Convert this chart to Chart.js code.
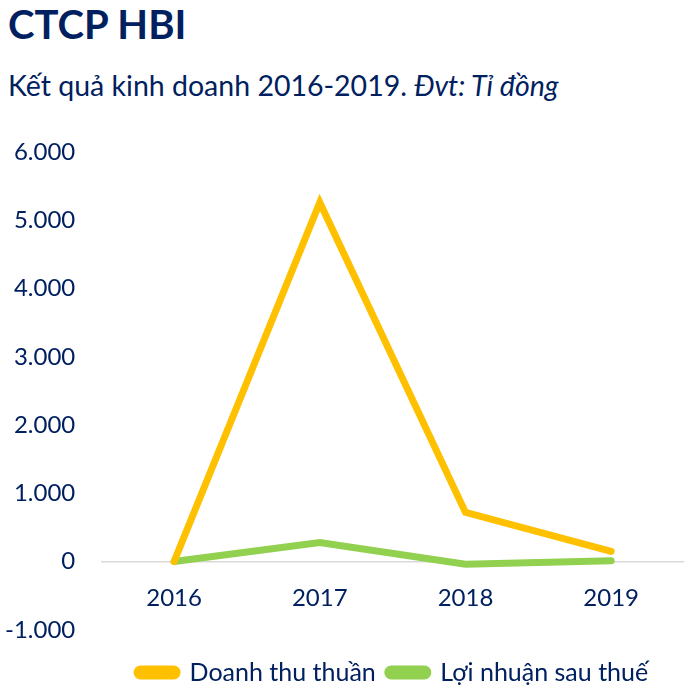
<!DOCTYPE html>
<html lang="vi">
<head>
  <meta charset="UTF-8" />
  <title>CTCP HBI</title>
  <style>
    * {
      margin: 0;
      padding: 0;
      box-sizing: border-box;
    }

    body {
      background-color: #ffffff;
      width: 684px;
      height: 699px;
      overflow: hidden;
      position: relative;
      font-family: 'Lato', 'Noto Sans', sans-serif;
      color: #002060;
    }

    .title {
      position: absolute;
      left: 8px;
      top: 0px;
      font-size: 40px;
      font-weight: 700;
      line-height: 48px;
    }

    .subtitle {
      position: absolute;
      left: 8px;
      top: 67px;
      font-size: 28.5px;
      line-height: 36px;
    }

    .subtitle em {
      font-style: italic;
    }

    .chart-box {
      position: absolute;
      left: 0;
      top: 110px;
      width: 684px;
      height: 589px;
    }
  </style>
</head>
<body>
  <div class="title">CTCP HBI</div>
  <div class="subtitle">Kết quả kinh doanh 2016-2019. <em>Đvt: Tỉ đồng</em></div>

  <div class="chart-box">
    <canvas id="resultChart"></canvas>
  </div>

  <script src="https://cdn.jsdelivr.net/npm/chart.js"></script>
  <script>
    const years = ["2016", "2017", "2018", "2019"];
    const revenue = [0, 5260, 720, 150];
    const profit = [0, 280, -40, 10];
    const yTicks = [-1000, 0, 1000, 2000, 3000, 4000, 5000, 6000];

    const navy = "#002060";
    const font = { family: "'Lato', 'Noto Sans', sans-serif", size: 24 };

    // 1000 -> "1.000"
    function formatNumber(v) {
      const s = Math.abs(v).toString().replace(/\B(?=(\d{3})+(?!\d))/g, ".");
      return (v < 0 ? "-" : "") + s;
    }

    const ctx = document.getElementById("resultChart").getContext("2d");
    new Chart(ctx, {
      type: "line",
      data: {
        labels: years,
        datasets: [
          {
            label: "Doanh thu thuần",
            data: revenue,
            borderColor: "#FFC000",
            backgroundColor: "#FFC000",
            borderWidth: 7,
            borderCapStyle: "round",
            pointRadius: 0,
            pointHoverRadius: 0,
            tension: 0
          },
          {
            label: "Lợi nhuận sau thuế",
            data: profit,
            borderColor: "#92D050",
            backgroundColor: "#92D050",
            borderWidth: 7,
            borderCapStyle: "round",
            pointRadius: 0,
            pointHoverRadius: 0,
            tension: 0
          }
        ]
      },
      options: {
        responsive: true,
        maintainAspectRatio: false,
        animation: false,
        layout: {
          padding: { top: 42, left: -21, right: 0, bottom: 4 }
        },
        plugins: {
          tooltip: { enabled: false },
          legend: {
            position: "bottom",
            fullSize: false,
            // empty title only adds room above the legend row
            title: {
              display: true,
              text: "",
              font: { size: 1 },
              padding: { top: 17, bottom: 0 }
            },
            labels: {
              color: navy,
              font: { family: font.family, size: 25 },
              boxWidth: 40,
              boxHeight: 7,
              useBorderRadius: true,
              borderRadius: 3.5,
              padding: 12
            }
          }
        },
        scales: {
          x: {
            position: { y: 0 },
            offset: true,
            grid: { display: false },
            border: { display: true, color: "#d9d9d9", width: 1.5 },
            ticks: { color: navy, font: font, padding: 14 }
          },
          y: {
            min: yTicks[0],
            max: yTicks[yTicks.length - 1],
            afterBuildTicks: scale => {
              scale.ticks = yTicks.map(v => ({ value: v }));
            },
            grid: { display: false, drawTicks: false },
            border: { display: false },
            ticks: {
              color: navy,
              font: font,
              padding: 26,
              callback: v => formatNumber(v)
            }
          }
        }
      }
    });
  </script>
</body>
</html>
